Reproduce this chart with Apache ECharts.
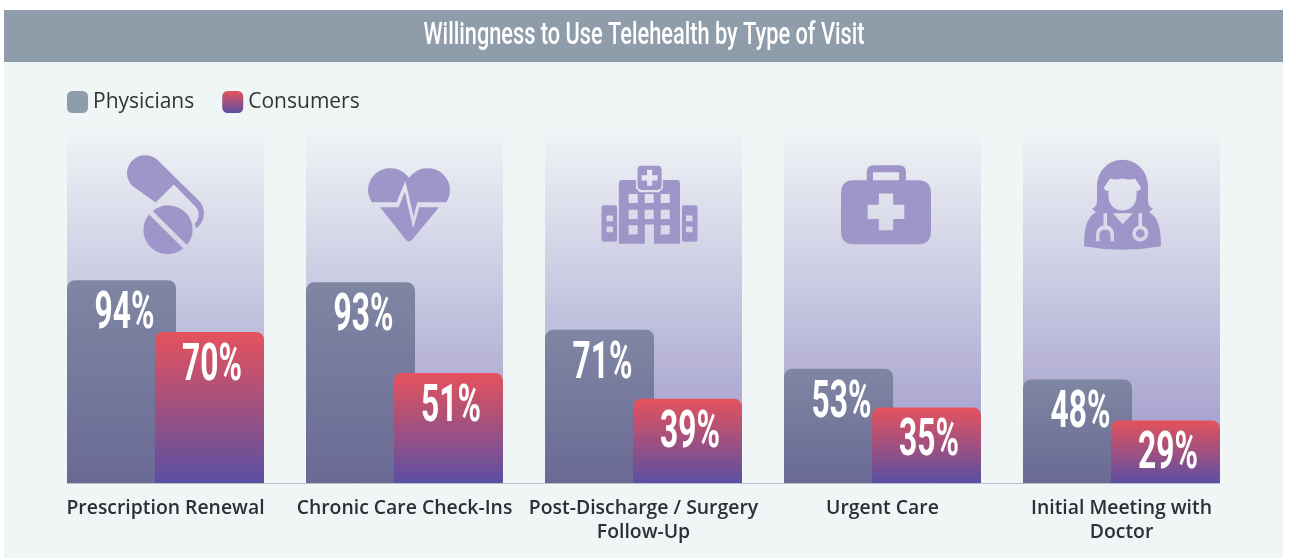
<!DOCTYPE html>
<html>
<head>
<meta charset="utf-8">
<style>
  html, body { margin: 0; padding: 0; background: #fff; }
  #main { width: 1294px; height: 559px; }
</style>
</head>
<body>
<div id="main"></div>
<script src="https://cdn.jsdelivr.net/npm/echarts@6/dist/echarts.min.js"></script>
<script>
const categories = [
  "Prescription Renewal",
  "Chronic Care Check-Ins",
  "Post-Discharge / Surgery\nFollow-Up",
  "Urgent Care",
  "Initial Meeting with\nDoctor",
];
const physicians = [94, 93, 71, 53, 48];
const consumers = [70, 51, 39, 35, 29];
const chartTitle = "Willingness to Use Telehealth by Type of Visit";
const yMax = 165;
const iconLevel = 129;

const NUM_FONT = '700 52px "Roboto"';

// outer shapes run clockwise, holes anticlockwise (nonzero fill)
function roundRect(x, y, w, h, r) {
  return `M${x + r} ${y}H${x + w - r}Q${x + w} ${y} ${x + w} ${y + r}V${y + h - r}Q${x + w} ${y + h} ${x + w - r} ${y + h}H${x + r}Q${x} ${y + h} ${x} ${y + h - r}V${y + r}Q${x} ${y} ${x + r} ${y}Z`;
}
function rectHole(x, y, w, h) {
  return `M${x} ${y}V${y + h}H${x + w}V${y}Z`;
}
function crossHole(cx, cy, a, b) {
  return `M${cx - b} ${cy - a}V${cy - b}H${cx - a}V${cy + b}H${cx - b}V${cy + a}H${cx + b}V${cy + b}H${cx + a}V${cy - b}H${cx + b}V${cy - a}Z`;
}

const pillPath =
  "M132.3 185.7A18 18 0 0 1 157.7 160.3L199 201.5A18 18 0 0 1 196 228.5L194.5 224A12 12 0 0 0 195.5 207L174 185L156 203Z" +
  "M153.2 211.3A24 24 0 0 1 187 245.1Z" +
  "M183.4 248.7A24 24 0 0 1 149.6 214.9Z";

const heartPath =
  "M373 202A21 21 0 1 1 409 178A21 21 0 1 1 445 202L417 202L413.5 216L405.5 181L397 202Z" +
  "M381 207L399 207L405 192L413 228L419 207L438 207L412 239Q409 242 406 239Z";

let hospitalPath =
  "M622 180H636V188L640 192H659L663 188V180H677Q680 180 680 183V243H654V224H645V243H619V183Q619 180 622 180Z" +
  roundRect(637.7, 165.7, 24, 24, 4) + crossHole(649.7, 177.7, 8, 2.6) +
  roundRect(601.7, 205, 15.5, 36, 2) + rectHole(606.7, 215, 6.5, 5.7) + rectHole(606.7, 226, 6.5, 5.7) +
  roundRect(682, 205, 15.5, 36, 2) + rectHole(686, 215, 6.5, 5.7) + rectHole(686, 226, 6.5, 5.7);
[633.3, 649.3, 665.3].forEach((wx, i) => {
  [198.3, 214, 229.3].forEach((wy, j) => {
    if (!(i === 1 && j === 2)) hospitalPath += rectHole(wx - 4.5, wy - 4.5, 9, 9);
  });
});

const bagPath =
  "M865.7 180V172Q865.7 165 873 165H898Q905 165 905 172V180H898V172H872V180Z" +
  roundRect(840, 180, 90, 64, 13) + crossHole(885, 211.7, 18.3, 7.2);

const doctorPath =
  "M1122.5 159C1136 159 1148 170 1148 186V200Q1148 207 1153 208L1149 212C1158 216 1161 228 1161 246Q1122 253 1084 246C1084 228 1087 216 1096 212L1092 208Q1097 207 1097 200V186C1097 170 1109 159 1122.5 159Z" +
  "M1122.5 178Q1114 180 1110 178L1104 187Q1105 191 1108.5 190V195C1108.5 205 1115 210 1122.5 210C1130 210 1136.5 205 1136.5 195V190Q1140 191 1141 187L1135 178Q1130 180 1122.5 178Z" +
  "M1112.7 213L1122.7 224L1132.7 213Z" +
  "M1103.5 213V225Q1096 227 1096 235V241H1099.5V235Q1099.5 229.5 1105 229.5Q1110.5 229.5 1110.5 235V241H1114V235Q1114 227 1107 225V213Z" +
  "M1138.5 213V225.5A8 8 0 1 0 1142 225.5V213Z" +
  "M1140.3 229A4.3 4.3 0 0 1 1140.3 237.6A4.3 4.3 0 0 1 1140.3 229Z";

const iconDefs = [
  { path: pillPath, size: [77, 99], offset: [0, 0] },
  { path: heartPath, size: [82, 73], offset: [4.5, 0] },
  { path: hospitalPath, size: [96, 78], offset: [6, 0] },
  { path: bagPath, size: [90, 79], offset: [3.5, 0] },
  { path: doctorPath, size: [77, 90], offset: [1, 0] },
];

function vGrad(top, bottom) {
  return new echarts.graphic.LinearGradient(0, 0, 0, 1, [
    { offset: 0, color: top },
    { offset: 1, color: bottom },
  ]);
}

function numberLabels(values, dx) {
  return {
    type: "custom",
    z: 6,
    silent: true,
    xAxisIndex: 0,
    data: values.map((v, i) => [i, v]),
    encode: { x: 0, y: 1 },
    renderItem: (params, api) => {
      const pt = api.coord([api.value(0), api.value(1)]);
      return {
        type: "text",
        x: pt[0] + dx,
        y: pt[1] + 35,
        scaleX: 0.61,
        style: {
          text: api.value(1) + "%",
          font: NUM_FONT,
          fill: "#fff",
          align: "center",
          verticalAlign: "middle",
        },
      };
    },
  };
}

const myChart = echarts.init(document.getElementById("main"));

const option = {
  animation: false,
  backgroundColor: "#fff",
  graphic: [
    { type: "rect", silent: true, shape: { x: 4, y: 10, width: 1279, height: 548 }, style: { fill: "#f0f6f6" } },
    { type: "rect", silent: true, shape: { x: 4, y: 10, width: 1279, height: 52 }, style: { fill: "#8f9ca9" } },
    {
      type: "text",
      silent: true,
      x: 644,
      y: 36,
      scaleX: 0.68,
      style: {
        text: chartTitle,
        font: '500 32px "Roboto"',
        fill: "#fff",
        align: "center",
        verticalAlign: "middle",
      },
    },
    { type: "line", silent: true, z: 1, shape: { x1: 67, y1: 483.5, x2: 1220, y2: 483.5 }, style: { stroke: "#b9bfc4", lineWidth: 1 } },
  ],
  legend: {
    left: 62,
    top: 86,
    itemWidth: 21,
    itemHeight: 22,
    itemGap: 28,
    icon: "roundRect",
    textStyle: { fontFamily: "Open Sans", fontSize: 21, color: "#333" },
    data: [
      { name: "Physicians", itemStyle: { color: "#8f9ca9" } },
      { name: "Consumers" },
    ],
  },
  grid: { left: 46, right: 53, top: 127, bottom: 76 },
  xAxis: [
    {
      type: "category",
      data: categories,
      axisLine: { show: false },
      axisTick: { show: false },
      axisLabel: {
        interval: 0,
        margin: 13,
        fontFamily: "Open Sans",
        fontSize: 19.4,
        fontWeight: 600,
        lineHeight: 24,
        color: "#2b2f36",
      },
    },
    { type: "category", data: categories, show: false },
  ],
  yAxis: { type: "value", min: 0, max: yMax, show: false },
  series: [
    {
      name: "column",
      type: "bar",
      xAxisIndex: 1,
      z: 1,
      silent: true,
      barWidth: 197,
      data: categories.map(() => yMax),
      itemStyle: { color: vGrad("#f0f5f6", "#9a93c8") },
    },
    {
      name: "icons",
      type: "scatter",
      xAxisIndex: 1,
      z: 2,
      silent: true,
      itemStyle: { color: "#9f95c8", opacity: 1 },
      data: iconDefs.map((d, i) => ({
        value: [i, iconLevel],
        symbol: "path://" + d.path,
        symbolSize: d.size,
        symbolOffset: d.offset,
      })),
    },
    {
      name: "Physicians",
      type: "bar",
      z: 3,
      barWidth: 109,
      barGap: "-19.3%",
      data: physicians,
      itemStyle: { color: vGrad("#7f86a2", "#6a6a95"), borderRadius: [8, 8, 0, 0] },
    },
    {
      name: "Consumers",
      type: "bar",
      z: 4,
      barWidth: 109,
      data: consumers,
      itemStyle: { color: vGrad("#e5525c", "#5b4fa3"), borderRadius: [8, 8, 0, 0] },
    },
    numberLabels(physicians, -41),
    numberLabels(consumers, 46.5),
  ],
};

myChart.setOption(option);
</script>
</body>
</html>
